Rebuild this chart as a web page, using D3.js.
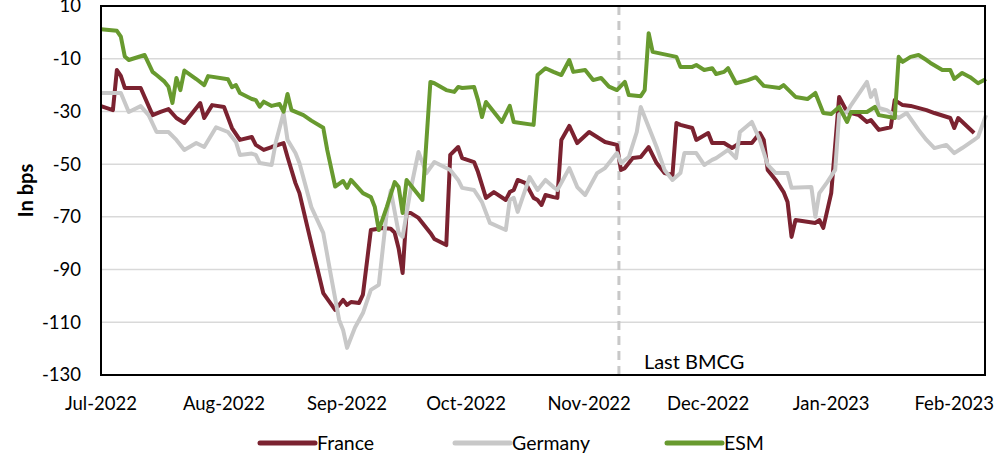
<!DOCTYPE html>
<html>
<head>
<meta charset="utf-8">
<script src="https://cdn.jsdelivr.net/npm/d3@7"></script>
<style>
  body { margin: 0; background: #fff; }
  svg { display: block; font-family: Lato, "Open Sans", sans-serif; }
</style>
</head>
<body>
<svg id="chart" width="998" height="455"></svg>
<script>
// spreads vs. something, in bps
var franceDates = ["2022-07-01","2022-07-04","2022-07-05","2022-07-06","2022-07-07","2022-07-11","2022-07-14","2022-07-16","2022-07-18","2022-07-20","2022-07-22","2022-07-24","2022-07-26","2022-07-27","2022-07-29","2022-08-01","2022-08-03","2022-08-05","2022-08-08","2022-08-09","2022-08-11","2022-08-13","2022-08-16","2022-08-17","2022-08-19","2022-08-20","2022-08-22","2022-08-24","2022-08-26","2022-08-29","2022-08-31","2022-09-01","2022-09-02","2022-09-04","2022-09-05","2022-09-07","2022-09-10","2022-09-12","2022-09-13","2022-09-14","2022-09-15","2022-09-16","2022-09-17","2022-09-19","2022-09-22","2022-09-23","2022-09-26","2022-09-27","2022-09-29","2022-09-30","2022-10-03","2022-10-04","2022-10-06","2022-10-08","2022-10-11","2022-10-12","2022-10-13","2022-10-14","2022-10-16","2022-10-18","2022-10-19","2022-10-20","2022-10-21","2022-10-23","2022-10-24","2022-10-25","2022-10-27","2022-10-29","2022-11-01","2022-11-03","2022-11-05","2022-11-08","2022-11-09","2022-11-10","2022-11-12","2022-11-14","2022-11-16","2022-11-18","2022-11-20","2022-11-22","2022-11-23","2022-11-24","2022-11-27","2022-11-28","2022-12-01","2022-12-02","2022-12-05","2022-12-07","2022-12-09","2022-12-12","2022-12-14","2022-12-15","2022-12-16","2022-12-18","2022-12-20","2022-12-21","2022-12-22","2022-12-23","2022-12-28","2022-12-29","2022-12-30","2023-01-01","2023-01-03","2023-01-05","2023-01-08","2023-01-10","2023-01-11","2023-01-13","2023-01-16","2023-01-17","2023-01-19","2023-01-21","2023-01-25","2023-01-27","2023-01-31","2023-02-01","2023-02-02","2023-02-06"];
var franceValues = [-28,-29.5,-14.3,-16.5,-21.1,-21.1,-31.4,-30.2,-29.1,-32.5,-34.4,-30.6,-26.8,-32.5,-27.6,-28.3,-36.3,-40.8,-39.7,-42.7,-44.6,-43.5,-42,-47.3,-57.2,-61,-73.8,-86.4,-98.9,-105.3,-101.5,-103.4,-102.3,-102.7,-99.5,-75,-74.2,-74.5,-76,-82,-91.3,-68.5,-68.5,-70.4,-76.1,-78.4,-80.7,-46.5,-43.5,-47.7,-49.2,-53,-62.8,-60.6,-63.6,-60.6,-59.8,-56,-57.2,-62.8,-63.6,-65.5,-61.7,-62.5,-62.8,-40.8,-35.5,-42,-37.8,-39.7,-41.6,-42.7,-52.2,-51.5,-47.7,-47.3,-43.5,-49.6,-53.4,-54.1,-34.4,-35.1,-36.3,-40.8,-38.2,-42,-42,-43.9,-42,-42,-38.2,-40.8,-52.2,-56,-60.6,-64.4,-77.6,-71.2,-72.3,-71.2,-74.2,-61,-24.5,-30.2,-31.4,-34,-33.3,-37,-36,-25.7,-27.6,-27.9,-29.5,-30.6,-32.5,-36.3,-32.5,-38.2];

var germanyDates = ["2022-07-01","2022-07-06","2022-07-08","2022-07-11","2022-07-13","2022-07-15","2022-07-18","2022-07-20","2022-07-22","2022-07-25","2022-07-27","2022-07-30","2022-08-02","2022-08-04","2022-08-05","2022-08-08","2022-08-09","2022-08-10","2022-08-13","2022-08-14","2022-08-16","2022-08-17","2022-08-19","2022-08-20","2022-08-23","2022-08-26","2022-08-28","2022-08-30","2022-08-31","2022-09-01","2022-09-03","2022-09-05","2022-09-07","2022-09-09","2022-09-11","2022-09-12","2022-09-14","2022-09-15","2022-09-17","2022-09-19","2022-09-21","2022-09-23","2022-09-27","2022-09-29","2022-09-30","2022-10-03","2022-10-05","2022-10-07","2022-10-11","2022-10-12","2022-10-13","2022-10-14","2022-10-17","2022-10-19","2022-10-21","2022-10-23","2022-10-24","2022-10-27","2022-10-29","2022-10-31","2022-11-03","2022-11-05","2022-11-08","2022-11-09","2022-11-11","2022-11-13","2022-11-14","2022-11-16","2022-11-18","2022-11-20","2022-11-22","2022-11-24","2022-11-25","2022-11-28","2022-11-30","2022-12-02","2022-12-03","2022-12-06","2022-12-08","2022-12-09","2022-12-12","2022-12-14","2022-12-16","2022-12-18","2022-12-21","2022-12-22","2022-12-27","2022-12-28","2022-12-29","2022-12-31","2023-01-02","2023-01-03","2023-01-05","2023-01-06","2023-01-10","2023-01-11","2023-01-12","2023-01-13","2023-01-15","2023-01-18","2023-01-20","2023-01-23","2023-01-25","2023-01-27","2023-01-30","2023-02-01","2023-02-03","2023-02-06","2023-02-07","2023-02-09"];
var germanyValues = [-23,-23,-30.2,-28,-31.4,-37.8,-37.8,-40.8,-44.6,-42,-43.5,-36,-37.8,-41.6,-46.5,-46,-46.5,-49.6,-50.3,-42,-30.6,-40.8,-45.8,-49.6,-66.3,-76.1,-92.8,-109.1,-112.9,-119.7,-112,-106.5,-97.7,-95.8,-68.5,-60,-76.1,-77.6,-59.8,-45.4,-53.4,-49.2,-52.2,-56,-59,-59.8,-64.4,-72.3,-75,-63.6,-62.8,-68.1,-54.9,-59.8,-56,-58.7,-59.8,-51.5,-58.7,-61.7,-53.4,-51.5,-45.8,-49.6,-47.3,-37.8,-28.3,-35.9,-43.5,-52.2,-56,-53.4,-45.8,-45.8,-50.3,-48.4,-47.7,-44.6,-47.7,-37.8,-34,-40.8,-50.3,-53.4,-53.4,-59,-58.7,-70,-61,-56.8,-52.2,-31,-30.2,-27.6,-18.8,-24.5,-21.9,-28.7,-29.5,-32.5,-30.6,-37,-40.8,-43.9,-42.7,-45.8,-43.9,-40.8,-39.7,-31.4];

var esmDates = ["2022-07-01","2022-07-05","2022-07-06","2022-07-07","2022-07-08","2022-07-12","2022-07-14","2022-07-15","2022-07-17","2022-07-18","2022-07-19","2022-07-20","2022-07-21","2022-07-22","2022-07-25","2022-07-27","2022-07-28","2022-08-02","2022-08-03","2022-08-04","2022-08-05","2022-08-08","2022-08-09","2022-08-10","2022-08-11","2022-08-13","2022-08-15","2022-08-16","2022-08-17","2022-08-18","2022-08-21","2022-08-23","2022-08-26","2022-08-27","2022-08-29","2022-08-31","2022-09-01","2022-09-02","2022-09-05","2022-09-07","2022-09-08","2022-09-09","2022-09-11","2022-09-13","2022-09-14","2022-09-15","2022-09-16","2022-09-18","2022-09-20","2022-09-22","2022-09-23","2022-09-26","2022-09-28","2022-09-29","2022-09-30","2022-10-03","2022-10-04","2022-10-05","2022-10-06","2022-10-08","2022-10-10","2022-10-12","2022-10-13","2022-10-18","2022-10-19","2022-10-21","2022-10-23","2022-10-25","2022-10-27","2022-10-28","2022-10-31","2022-11-02","2022-11-04","2022-11-06","2022-11-08","2022-11-10","2022-11-11","2022-11-14","2022-11-15","2022-11-16","2022-11-17","2022-11-23","2022-11-24","2022-11-27","2022-11-28","2022-11-30","2022-12-02","2022-12-03","2022-12-05","2022-12-06","2022-12-08","2022-12-11","2022-12-13","2022-12-15","2022-12-19","2022-12-20","2022-12-23","2022-12-26","2022-12-28","2022-12-29","2022-12-30","2023-01-01","2023-01-03","2023-01-05","2023-01-06","2023-01-10","2023-01-12","2023-01-13","2023-01-17","2023-01-18","2023-01-19","2023-01-21","2023-01-23","2023-01-25","2023-01-26","2023-01-29","2023-01-31","2023-02-01","2023-02-03","2023-02-05","2023-02-07","2023-02-09"];
var esmValues = [1.2,0.6,-1.6,-9.2,-10.5,-8.6,-15,-16.2,-18.7,-20.6,-26.8,-17.3,-21.9,-14.5,-17.7,-20,-16.6,-17.8,-20.8,-20,-23,-25.3,-25.7,-28.2,-26.3,-27.9,-27.2,-30.1,-23.4,-29.5,-31.4,-33.5,-36.2,-44.6,-58.5,-56.4,-59,-56,-61,-62.5,-66.3,-75,-66.3,-56.8,-58.7,-68.5,-56,-59.8,-63.6,-18.8,-19.3,-21.9,-22.6,-20.7,-21.1,-20.7,-25.7,-32.1,-26.4,-30.2,-34,-27.9,-34,-35.1,-16.2,-13.6,-15,-16.2,-10.5,-15,-14.3,-18.1,-17.3,-20.6,-21.9,-18.8,-23.8,-24.2,-21.9,-0.3,-7.4,-9.3,-13.1,-13.1,-12.4,-14.3,-13.6,-15.8,-15,-13.6,-19.3,-18.1,-17,-20.3,-21.1,-20,-24.5,-25.3,-23,-26.8,-30.6,-31,-28.3,-34,-30.2,-30.2,-28.3,-31.4,-32.5,-9.3,-11.2,-9.3,-8.6,-10.5,-11.6,-14.3,-14.3,-17.7,-15.4,-17,-19.3,-17.7];

var seriesNames = ["France", "Germany", "ESM"];
var seriesColors = ["#7b2230", "#c8c8c8", "#689a2f"];
var yTicks = [10, -10, -30, -50, -70, -90, -110, -130];
var xTickDates = ["2022-07-01","2022-08-01","2022-09-01","2022-10-01","2022-11-01","2022-12-01","2023-01-01","2023-02-01"];
var bmcgDate = "2022-11-08";
var bmcgLabel = "Last BMCG";

var parseDate = d3.timeParse("%Y-%m-%d");
var fmt = d3.timeFormat("%b-%Y");

var margin = {top: 6, right: 13, bottom: 80, left: 101};
var width = 998, height = 455;

var svg = d3.select("#chart");

var x = d3.scaleTime()
  .domain([parseDate("2022-07-01"), parseDate("2023-02-09")])
  .range([margin.left, width - margin.right + 1]);
var y = d3.scaleLinear()
  .domain([-130, 10])
  .range([height - margin.bottom, margin.top]);

// gridlines
svg.append("g")
  .selectAll("line")
  .data(yTicks.slice(1, -1))
  .enter().append("line")
  .attr("x1", margin.left).attr("x2", width - margin.right)
  .attr("y1", d => y(d)).attr("y2", d => y(d))
  .attr("stroke", "#d9d9d9")
  .attr("stroke-width", 1.5);

// y labels
svg.append("g")
  .selectAll("text")
  .data(yTicks)
  .enter().append("text")
  .attr("x", 81)
  .attr("y", d => y(d))
  .attr("dy", "0.35em")
  .attr("text-anchor", "end")
  .attr("font-size", 18.5)
  .text(d => d);

// x labels
svg.append("g")
  .selectAll("text")
  .data(xTickDates.map(parseDate))
  .enter().append("text")
  .attr("x", d => x(d))
  .attr("y", 410)
  .attr("text-anchor", "middle")
  .attr("font-size", 18.5)
  .text(d => fmt(d));

svg.append("text")
  .attr("transform", "translate(33," + ((margin.top + height - margin.bottom) / 2) + ") rotate(-90)")
  .attr("text-anchor", "middle")
  .attr("font-size", 20)
  .attr("font-weight", "bold")
  .text("In bps");

// last BMCG marker
var bx = x(parseDate(bmcgDate)) + 2;
svg.append("line")
  .attr("x1", bx).attr("x2", bx)
  .attr("y1", margin.top).attr("y2", height - margin.bottom)
  .attr("stroke", "#c8c8c8")
  .attr("stroke-width", 3)
  .attr("stroke-dasharray", "9,6");
svg.append("text")
  .attr("x", bx + 25)
  .attr("y", 369)
  .attr("font-size", 20)
  .text(bmcgLabel);

var line = d3.line()
  .x(d => x(d.date))
  .y(d => y(d.value));

var allDates = [franceDates, germanyDates, esmDates];
var allValues = [franceValues, germanyValues, esmValues];
var series = seriesNames.map((name, i) => ({
  name: name,
  color: seriesColors[i],
  points: allDates[i].map((d, j) => ({date: parseDate(d), value: allValues[i][j]}))
}));

svg.append("g")
  .selectAll("path")
  .data(series)
  .enter().append("path")
  .attr("d", d => line(d.points))
  .attr("fill", "none")
  .attr("stroke", d => d.color)
  .attr("stroke-width", 4)
  .attr("stroke-linejoin", "round");

// plot frame
svg.append("rect")
  .attr("x", margin.left).attr("y", margin.top)
  .attr("width", width - margin.right - margin.left)
  .attr("height", height - margin.bottom - margin.top)
  .attr("fill", "none")
  .attr("stroke", "#000")
  .attr("stroke-width", 2);

// legend
var legendX = [260, 455, 667];
var legend = svg.append("g")
  .selectAll("g")
  .data(series)
  .enter().append("g")
  .attr("transform", (d, i) => "translate(" + legendX[i] + ",443)");
legend.append("line")
  .attr("x1", 0).attr("x2", 55)
  .attr("stroke", d => d.color)
  .attr("stroke-width", 5)
  .attr("stroke-linecap", "round");
legend.append("text")
  .attr("x", 57)
  .attr("dy", "0.35em")
  .attr("font-size", 19.5)
  .text(d => d.name);
</script>
</body>
</html>
